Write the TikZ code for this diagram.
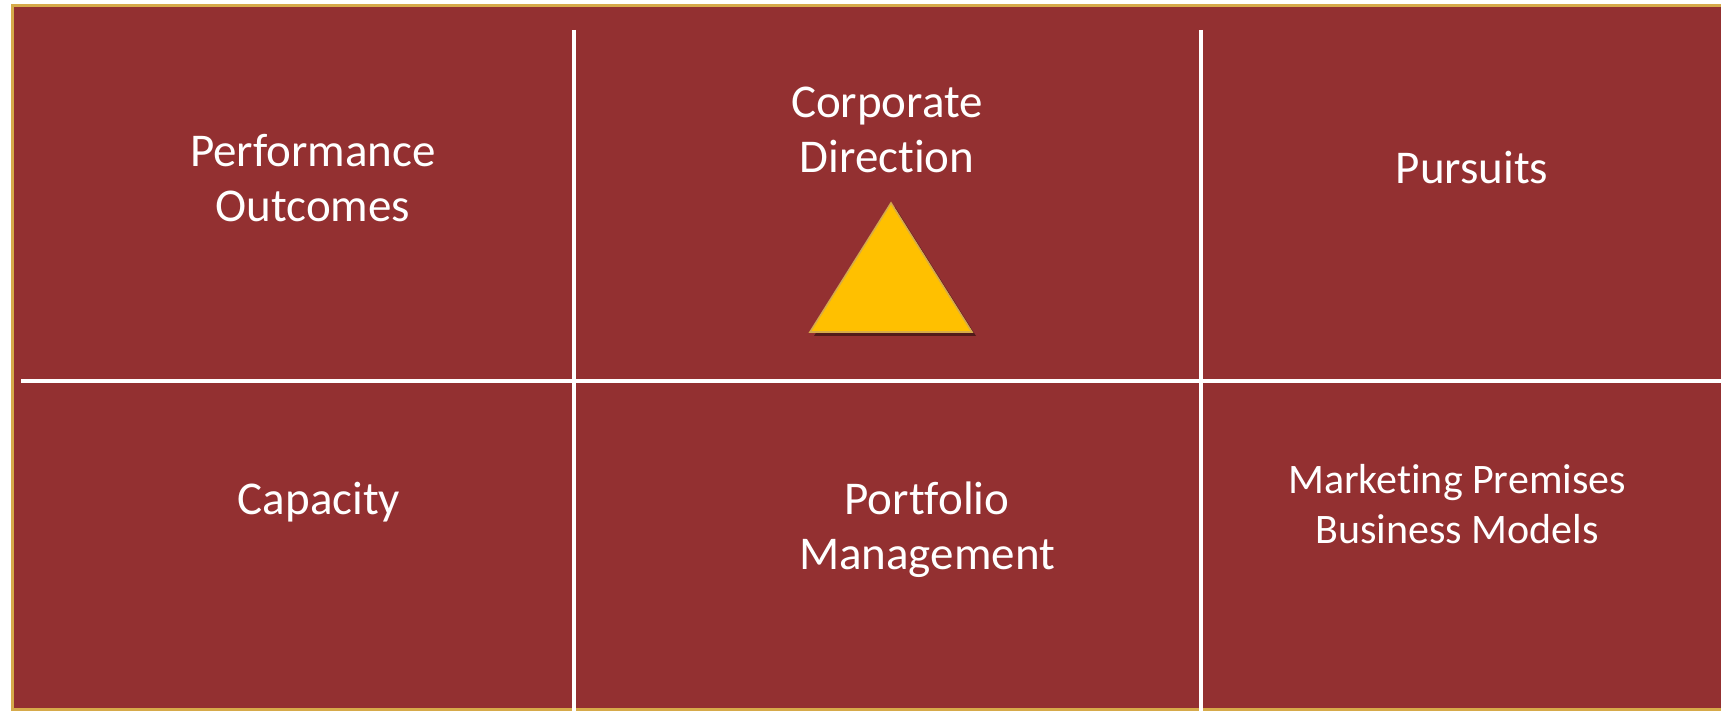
\documentclass[tikz,border=0pt]{standalone}
\usepackage{fontspec}
\setmainfont{Carlito}[Ligatures={NoCommon}]
\usetikzlibrary{shadows}
\definecolor{wine}{HTML}{933031}
\definecolor{rim}{HTML}{D6AA4A}
\definecolor{amber}{HTML}{FFC000}
\tikzset{
  cell/.style={text=white, align=center, inner sep=0pt, font=\fontsize{23.5}{27.5}\selectfont},
  smallcell/.style={cell, font=\fontsize{21}{25}\selectfont}
}
\begin{document}
\begin{tikzpicture}[x=0.5pt,y=-0.5pt]
\useasboundingbox (0,0) rectangle (1721,711);
\draw[rim, line width=1.5pt, fill=wine] (12,6) rectangle (1730,709.5);
% grid lines
\draw[white, line width=1.6pt] (21,381) -- (1730,381)
\foreach \x in {574,1201}{
    (\x,30) -- (\x,715)
};
% cell texts
\node[cell] (perf) at (313,178) {Performance\\Outcomes};
\node[cell] (corp) at (887,130) {Corporate\\Direction};
\node[cell] (purs) at (1472,168) {Pursuits};
\node[cell] (capa) at (319,502) {Capacity};
\node[cell] (port) at (927,530) {Portfolio\\Management};
\node[smallcell] (mark) at (1457,504) {Marketing Premises\\Business Models};
% triangle
\draw[rim, line width=0.8pt, fill=amber, drop shadow={shadow xshift=2pt, shadow yshift=-2pt, fill=black, opacity=0.45}]
    (891,203) -- (972,332) -- (810,332) -- cycle;
\end{tikzpicture}
\end{document}
